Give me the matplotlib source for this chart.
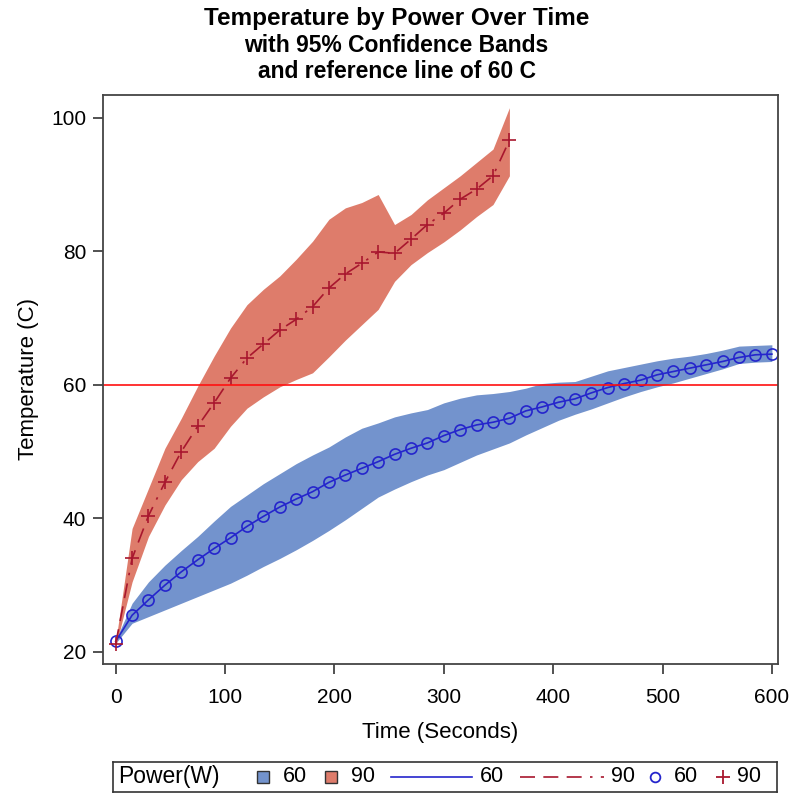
import numpy as np
import matplotlib.pyplot as plt
from matplotlib.patches import Rectangle
from matplotlib.lines import Line2D

plt.rcParams['font.family'] = ['Liberation Sans', 'DejaVu Sans']

# 60 W series
time_60 = [0, 15, 30, 45, 60, 75, 90, 105, 120, 135, 150, 165, 180, 195, 210,
           225, 240, 255, 270, 285, 300, 315, 330, 345, 360, 375, 390, 405, 420,
           435, 450, 465, 480, 495, 510, 525, 540, 555, 570, 585, 600]
temp_60 = [21.6, 25.5, 27.8, 30.0, 32.0, 33.8, 35.5, 37.1, 38.8, 40.3, 41.7,
           42.9, 44.0, 45.4, 46.5, 47.5, 48.5, 49.6, 50.5, 51.3, 52.4, 53.3,
           54.0, 54.4, 55.0, 56.1, 56.7, 57.4, 57.9, 58.8, 59.6, 60.2, 60.7,
           61.5, 62.0, 62.5, 63.0, 63.5, 64.1, 64.5, 64.6]
lower_60 = [21.3, 24.3, 25.3, 26.3, 27.3, 28.3, 29.3, 30.3, 31.5, 32.8, 34.0,
            35.3, 36.7, 38.2, 39.8, 41.5, 43.2, 44.4, 45.5, 46.5, 47.3, 48.4,
            49.5, 50.4, 51.3, 52.5, 53.6, 54.7, 55.6, 56.4, 57.3, 58.2, 59.0,
            59.7, 60.3, 61.0, 61.7, 62.4, 63.2, 63.4, 63.5]
upper_60 = [21.8, 27.3, 30.5, 33.0, 35.2, 37.3, 39.6, 41.8, 43.5, 45.2, 46.7,
            48.2, 49.5, 50.7, 52.2, 53.5, 54.3, 55.2, 55.8, 56.3, 57.3, 58.0,
            58.5, 58.7, 59.0, 59.5, 60.2, 60.4, 60.5, 61.3, 62.1, 62.6, 63.1,
            63.6, 64.0, 64.3, 64.7, 65.2, 65.8, 65.9, 66.0]

# 90 W series
time_90 = [0, 15, 30, 45, 60, 75, 90, 105, 120, 135, 150, 165, 180, 195, 210,
           225, 240, 255, 270, 285, 300, 315, 330, 345, 360]
temp_90 = [21.2, 34.0, 40.4, 45.4, 50.0, 53.8, 57.3, 61.0, 64.0, 66.1, 68.2,
           69.8, 71.7, 74.5, 76.6, 78.2, 79.9, 79.7, 81.8, 84.0, 85.7, 87.8,
           89.3, 91.3, 96.6]
lower_90 = [20.8, 30.5, 37.3, 42.0, 45.8, 48.5, 50.5, 53.8, 56.5, 58.2, 59.7,
            60.8, 61.8, 64.2, 66.7, 69.0, 71.3, 75.5, 78.0, 79.8, 81.4, 83.2,
            85.2, 87.0, 91.3]
upper_90 = [21.5, 38.5, 44.5, 50.5, 55.0, 59.8, 64.3, 68.5, 72.0, 74.3, 76.3,
            78.8, 81.5, 84.8, 86.5, 87.3, 88.5, 84.0, 85.5, 87.7, 89.5, 91.3,
            93.3, 95.3, 101.5]

ref_temp = 60
x_ticks = [0, 100, 200, 300, 400, 500, 600]
y_ticks = [20, 40, 60, 80, 100]

band_blue = '#7393cd'
band_red = '#de7c6b'
line_blue = '#2525cc'
line_red = '#a8172e'
dash_red = (0, (9, 5, 9, 5, 9, 5, 1.5, 5))

fig = plt.figure(figsize=(7.93, 7.97), dpi=100)
ax = fig.add_axes([103 / 793, 1 - 664 / 797, 675 / 793, 569 / 797])

ax.fill_between(time_60, lower_60, upper_60, color=band_blue, lw=0)
ax.fill_between(time_90, lower_90, upper_90, color=band_red, lw=0)
ax.plot(time_60, temp_60, color=line_blue, lw=1.2, marker='o', ms=8,
        mfc='none', mec=line_blue, mew=1.2)
ax.plot(time_90, temp_90, color=line_red, lw=1.2, ls=dash_red, marker='+',
        ms=10, mec=line_red, mew=1.2)
ax.axhline(ref_temp, color='#ff1010', lw=1.2)

ax.set_xlim(-11.6, 605.6)
ax.set_ylim(18.2, 103.4)
ax.set_xticks(x_ticks)
ax.set_yticks(y_ticks)
ax.tick_params(direction='out', length=7, width=1.2, labelsize=15,
               color='#333333')
ax.tick_params(axis='x', pad=10)
ax.tick_params(axis='y', pad=5)
for s in ax.spines.values():
    s.set_linewidth(1.3)
    s.set_color('#444444')
ax.set_xlabel('Time (Seconds)', fontsize=16, labelpad=11)
ax.set_ylabel('Temperature (C)', fontsize=16, labelpad=9)

fig.text(0.5, 1 - 19 / 797, 'Temperature by Power Over Time', ha='center',
         va='center', fontsize=17.5, fontweight='bold')
fig.text(0.5, 1 - 45.5 / 797, 'with 95% Confidence Bands', ha='center',
         va='center', fontsize=16.5, fontweight='bold')
fig.text(0.5, 1 - 71 / 797, 'and reference line of 60 C', ha='center',
         va='center', fontsize=16.5, fontweight='bold')

# legend drawn by hand so each entry can have its own handle width
lax = fig.add_axes([113 / 793, 1 - 792 / 797, 664 / 793, 30 / 797])
lax.set_xlim(113, 777)
lax.set_ylim(0, 30)
lax.set_xticks([])
lax.set_yticks([])
for s in lax.spines.values():
    s.set_linewidth(1.2)
    s.set_color('#333333')
fs = 15.5
lax.text(118, 15, 'Power(W)', va='center', fontsize=16.5)
lax.add_patch(Rectangle((257, 9), 12, 12, fc=band_blue, ec='#333333', lw=1))
lax.text(283, 15, '60', va='center', fontsize=fs)
lax.add_patch(Rectangle((325, 9), 12, 12, fc=band_red, ec='#333333', lw=1))
lax.text(351, 15, '90', va='center', fontsize=fs)
lax.add_line(Line2D([391, 472], [15, 15], color=line_blue, lw=1.2))
lax.text(480, 15, '60', va='center', fontsize=fs)
lax.add_line(Line2D([520, 604], [15, 15], color=line_red, lw=1.2, ls=dash_red))
lax.text(611, 15, '90', va='center', fontsize=fs)
lax.add_line(Line2D([655], [15], marker='o', ms=7, mfc='none', mec=line_blue,
                    mew=1.3, ls='none'))
lax.text(674, 15, '60', va='center', fontsize=fs)
lax.add_line(Line2D([723], [15], marker='+', ms=10, mec=line_red, mew=1.3,
                    ls='none'))
lax.text(737, 15, '90', va='center', fontsize=fs)

fig.savefig('out.png', dpi=100)
